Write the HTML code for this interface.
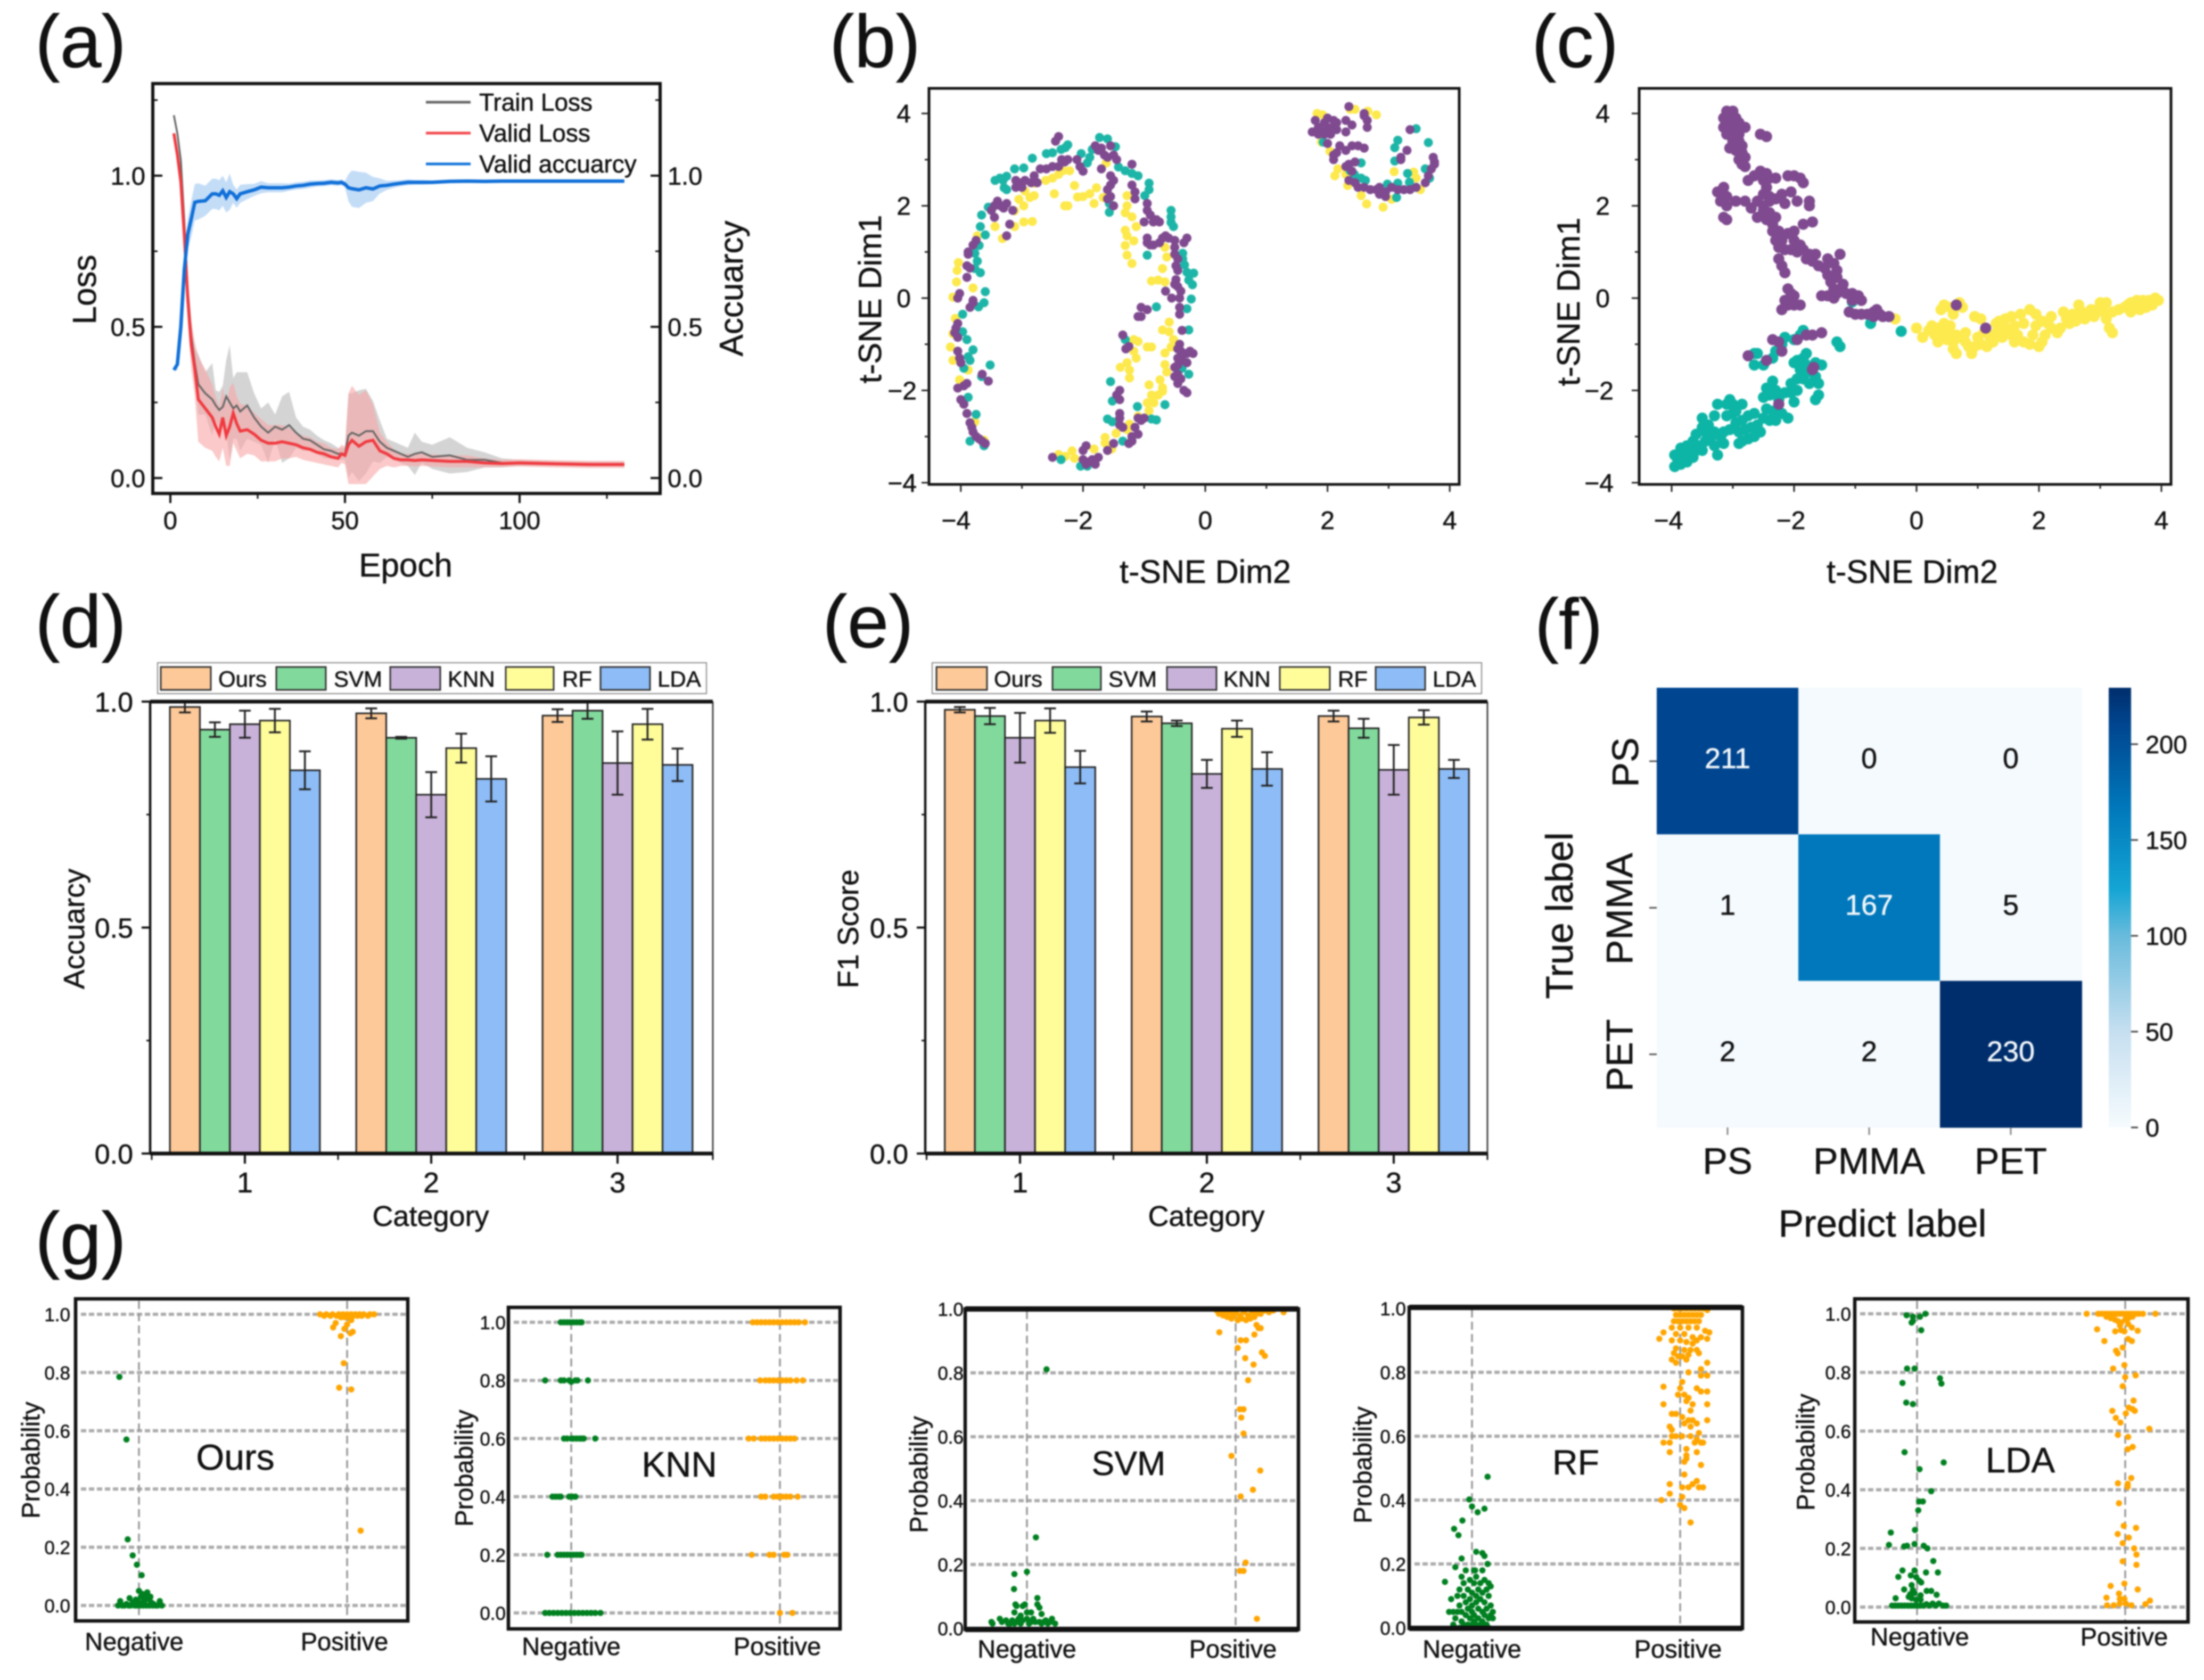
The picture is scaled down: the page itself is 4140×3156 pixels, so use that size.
<!DOCTYPE html>
<html lang="en">
<head>
<meta charset="utf-8">
<title>Model performance figure</title>
<style>
html,body{margin:0;padding:0;background:#fff}
svg{display:block;filter:blur(1.4px)}
text{font-family:"Liberation Sans",sans-serif;fill:#111;stroke:#111;stroke-width:0.6px}
</style>
</head>
<body>
<svg id="fig" xmlns="http://www.w3.org/2000/svg" width="4140" height="3156" viewBox="0 0 4140 3156">
<rect x="0" y="0" width="4140" height="3156" fill="#fff"/>
<defs>
<linearGradient id="cbar" x1="0" y1="1" x2="0" y2="0">
<stop offset="0" stop-color="#f6fbfe"/>
<stop offset="0.217" stop-color="#c6dff0"/>
<stop offset="0.435" stop-color="#69bbdc"/>
<stop offset="0.543" stop-color="#14a5d4"/>
<stop offset="0.726" stop-color="#0078bb"/>
<stop offset="0.917" stop-color="#00458f"/>
<stop offset="1" stop-color="#002e6c"/>
</linearGradient>
</defs>

<text x="66" y="126" font-size="140">(a)</text>
<text x="1558" y="126" font-size="140">(b)</text>
<text x="2877" y="126" font-size="140">(c)</text>
<text x="66" y="1216" font-size="140">(d)</text>
<text x="1545" y="1216" font-size="140">(e)</text>
<text x="2883" y="1219" font-size="135">(f)</text>
<text x="66" y="2375" font-size="140">(g)</text>

<text font-size="62" text-anchor="middle" transform="translate(180,544) rotate(-90)">Loss</text>
<text font-size="62" text-anchor="middle" transform="translate(1395,542) rotate(-90)">Accuarcy</text>
<text x="762" y="1083" font-size="62" text-anchor="middle">Epoch</text>

<g>
<line x1="800" y1="192" x2="884" y2="192" stroke="#666" stroke-width="5"/>
<text x="900" y="208" font-size="46">Train Loss</text>
<line x1="800" y1="250" x2="884" y2="250" stroke="#f2474b" stroke-width="5"/>
<text x="900" y="266" font-size="46">Valid Loss</text>
<line x1="800" y1="308" x2="884" y2="308" stroke="#1274da" stroke-width="5"/>
<text x="900" y="324" font-size="46">Valid accuarcy</text>
</g>

<text x="2264" y="1095" font-size="61" text-anchor="middle">t-SNE Dim2</text>
<text font-size="60" text-anchor="middle" transform="translate(1655,562) rotate(-90)">t-SNE Dim1</text>
<text x="3592" y="1095" font-size="61" text-anchor="middle">t-SNE Dim2</text>
<text font-size="60" text-anchor="middle" transform="translate(2967,567) rotate(-90)">t-SNE Dim1</text>

<g>
<rect x="296" y="1245" width="1031" height="58" fill="#fff" stroke="#888" stroke-width="2"/>
<rect x="302" y="1253" width="94" height="43" fill="#fdc998" stroke="#333" stroke-width="3"/>
<text x="410" y="1290" font-size="42">Ours</text>
<rect x="519" y="1253" width="93" height="43" fill="#81d99c" stroke="#333" stroke-width="3"/>
<text x="627" y="1290" font-size="42">SVM</text>
<rect x="733" y="1253" width="94" height="43" fill="#c8b2d9" stroke="#333" stroke-width="3"/>
<text x="841" y="1290" font-size="42">KNN</text>
<rect x="950" y="1253" width="90" height="43" fill="#fffd9a" stroke="#333" stroke-width="3"/>
<text x="1056" y="1290" font-size="42">RF</text>
<rect x="1128" y="1253" width="93" height="43" fill="#8dbcf6" stroke="#333" stroke-width="3"/>
<text x="1235" y="1290" font-size="42">LDA</text>
</g>
<text font-size="55" text-anchor="middle" transform="translate(158,1745) rotate(-90)">Accuarcy</text>
<text x="809" y="2303" font-size="54" text-anchor="middle">Category</text>

<g>
<rect x="1751" y="1245" width="1032" height="58" fill="#fff" stroke="#888" stroke-width="2"/>
<rect x="1759" y="1253" width="95" height="43" fill="#fdc998" stroke="#333" stroke-width="3"/>
<text x="1867" y="1290" font-size="42">Ours</text>
<rect x="1977" y="1253" width="91" height="43" fill="#81d99c" stroke="#333" stroke-width="3"/>
<text x="2082" y="1290" font-size="42">SVM</text>
<rect x="2192" y="1253" width="93" height="43" fill="#c8b2d9" stroke="#333" stroke-width="3"/>
<text x="2298" y="1290" font-size="42">KNN</text>
<rect x="2404" y="1253" width="94" height="43" fill="#fffd9a" stroke="#333" stroke-width="3"/>
<text x="2513" y="1290" font-size="42">RF</text>
<rect x="2584" y="1253" width="93" height="43" fill="#8dbcf6" stroke="#333" stroke-width="3"/>
<text x="2691" y="1290" font-size="42">LDA</text>
</g>
<text font-size="55" text-anchor="middle" transform="translate(1612,1745) rotate(-90)">F1 Score</text>
<text x="2266" y="2303" font-size="54" text-anchor="middle">Category</text>

<text x="3536" y="2323" font-size="71" text-anchor="middle">Predict label</text>
<text font-size="71" text-anchor="middle" transform="translate(2954,1720) rotate(-90)">True label</text>
<rect x="3961" y="1292" width="42" height="826" fill="url(#cbar)"/>

<text x="442" y="2761" font-size="68" text-anchor="middle">Ours</text>
<text x="1276" y="2774" font-size="67" text-anchor="middle">KNN</text>
<text x="2120" y="2771" font-size="64" text-anchor="middle">SVM</text>
<text x="2960" y="2770" font-size="66" text-anchor="middle">RF</text>
<text x="3795" y="2766" font-size="67" text-anchor="middle">LDA</text>

<g id="layer-marks"></g>
</svg>

<script>
// ---------- panel (a) data ----------
const aEpochs=[1,2,3,4,5,6,7,8,10,12,13,14,15,16,17,18,19,20,22,24,26,28,30,32,34,36,38,40,42,44,46,48,49,50,51,52,54,56,58,60,62,64,66,68,70,72,75,80,85,90,95,100,110,120,130];
const aTrainLoss=[1.2,1.14,1.05,.85,.62,.47,.38,.31,.28,.26,.24,.225,.235,.27,.25,.23,.24,.22,.24,.2,.17,.15,.17,.16,.175,.15,.13,.125,.11,.095,.09,.08,.08,.08,.14,.15,.14,.155,.155,.12,.1,.09,.08,.07,.08,.085,.07,.075,.06,.06,.05,.05,.048,.045,.045];
const aValidLoss=[1.14,1.07,.98,.80,.59,.44,.36,.26,.23,.20,.17,.145,.20,.14,.17,.215,.18,.155,.16,.145,.125,.115,.115,.12,.115,.11,.10,.095,.085,.08,.07,.065,.08,.075,.11,.125,.105,.12,.125,.09,.08,.065,.06,.06,.058,.06,.058,.055,.055,.05,.048,.05,.047,.045,.045];
const aValidAcc=[.357,.376,.50,.69,.807,.858,.912,.915,.917,.94,.94,.935,.95,.928,.947,.94,.924,.94,.947,.953,.962,.96,.96,.96,.962,.966,.968,.972,.974,.975,.978,.976,.978,.972,.96,.957,.953,.96,.956,.966,.968,.972,.975,.978,.978,.978,.978,.981,.982,.981,.982,.982,.982,.982,.982];
const aTrainErr=[0,.01,.02,.03,.03,.03,.05,.1,.07,.12,.05,.06,.07,.12,.19,.1,.11,.13,.11,.08,.06,.1,.04,.11,.11,.05,.04,.035,.03,.03,.025,.02,.02,.02,.14,.13,.15,.14,.1,.07,.03,.03,.03,.03,.07,.035,.04,.06,.04,.025,.015,.01,.008,.008,.008];
const aValidErr=[0,.01,.03,.06,.08,.08,.09,.14,.13,.11,.1,.09,.1,.1,.13,.1,.09,.09,.08,.07,.07,.06,.06,.055,.05,.04,.04,.04,.035,.035,.03,.03,.03,.03,.17,.18,.17,.17,.12,.06,.04,.03,.02,.02,.02,.02,.02,.02,.02,.015,.012,.012,.012,.012,.012];
const aAccErr=[0,.02,.05,.06,.05,.06,.06,.06,.05,.05,.05,.05,.05,.05,.06,.03,.03,.03,.025,.02,.02,.015,.015,.015,.012,.012,.012,.012,.01,.01,.01,.01,.01,.01,.045,.06,.06,.05,.04,.025,.015,.012,.01,.01,.008,.008,.006,.006,.006,.005,.002,.002,.002,.002,.002];
const aYTicks=[0,0.5,1.0];
const aYMinor=[0.25,0.75,1.25];
const aXTicks=[0,50,100];
const aXMinor=[25,75,125];

// ---------- t-SNE data (Dim2, Dim1) ----------
const bPurple=[[-3.6,-3.15],[-3.65,-3.1],[-3.7,-3.05],[-3.75,-3.0],[-3.8,-2.9],[-3.82,-2.8],[-3.85,-2.7],[-3.9,-2.5],[-3.95,-2.3],[-4.0,-2.2],[-4.05,-1.95],[-3.95,-1.9],[-3.9,-1.85],[-3.55,-1.8],[-3.65,-1.65],[-4.0,-1.4],[-4.02,-1.3],[-4.05,-1.15],[-4.1,-0.75],[-4.08,-0.65],[-4.05,-0.85],[-4.05,-0.55],[-3.8,-0.1],[-3.85,-0.2],[-3.8,-0.05],[-4.05,0.0],[-4.02,0.1],[-3.9,0.45],[-3.85,0.65],[-3.9,0.7],[-3.88,1.0],[-3.88,0.95],[-3.8,1.15],[-3.75,1.25],[-3.5,1.9],[-3.45,2.0],[-3.4,2.1],[-3.35,2.0],[-3.3,1.95],[-3.25,2.05],[-3.15,1.9],[-3.45,1.75],[-3.2,1.6],[-3.25,1.35],[-3.1,2.4],[-3.1,2.55],[-3.05,2.5],[-3.0,2.4],[-2.95,2.55],[-2.85,2.5],[-2.8,2.65],[-2.75,2.5],[-2.7,2.8],[-2.6,2.8],[-2.5,2.85],[-2.4,2.85],[-2.3,2.95],[-2.25,3.0],[-2.4,3.5],[-2.45,3.4],[-2.35,3.0],[-2.1,3.0],[-2.05,2.85],[-2.0,2.75],[-1.8,3.3],[-1.75,3.2],[-1.7,3.25],[-1.65,3.1],[-1.6,3.05],[-1.55,3.3],[-1.5,3.1],[-1.45,3.0],[-1.7,2.8],[-1.2,2.9],[-1.55,2.65],[-1.5,2.55],[-1.55,2.45],[-1.6,2.35],[-1.55,2.2],[-1.6,2.15],[-1.5,2.0],[-1.2,2.45],[-1.15,2.3],[-1.15,2.15],[-0.95,2.05],[-0.95,1.9],[-0.9,1.8],[-1.0,1.65],[-0.85,1.65],[-0.8,1.7],[-0.75,1.65],[-0.95,1.3],[-0.95,1.2],[-0.9,1.15],[-0.85,1.15],[-0.75,1.2],[-0.7,1.3],[-0.65,1.35],[-0.6,1.3],[-0.5,1.25],[-0.5,1.1],[-0.5,0.95],[-0.45,0.85],[-0.48,0.7],[-0.45,0.6],[-0.48,0.4],[-0.5,0.3],[-0.45,0.25],[-0.4,0.15],[-0.3,1.3],[-0.35,1.2],[-0.65,0.15],[-0.55,0.0],[-0.42,0.0],[-0.42,-0.2],[-0.42,-0.35],[-0.38,-0.7],[-1.05,-0.2],[-0.95,-0.25],[-1.1,-0.4],[-1.05,-0.4],[-1.35,-0.8],[-1.3,-1.1],[-1.25,-1.05],[-0.42,-1.0],[-0.45,-1.1],[-0.4,-1.15],[-0.35,-1.2],[-0.3,-1.2],[-0.25,-1.15],[-0.2,-1.2],[-0.45,-1.3],[-0.38,-1.35],[-0.45,-1.45],[-0.5,-1.5],[-0.3,-1.4],[-0.45,-1.65],[-0.5,-1.7],[-0.4,-1.75],[-0.45,-1.85],[-0.35,-2.0],[-0.3,-2.05],[-1.4,-2.0],[-1.45,-2.1],[-1.4,-2.2],[-1.4,-2.5],[-1.4,-2.6],[-1.4,-2.75],[-1.35,-2.8],[-1.1,-2.6],[-1.05,-2.65],[-1.0,-2.6],[-1.15,-2.8],[-1.1,-2.95],[-1.2,-3.0],[-1.2,-3.1],[-1.25,-3.15],[-1.5,-3.15],[-1.6,-3.3],[-1.95,-3.2],[-2.0,-3.3],[-2.0,-3.5],[-1.95,-3.6],[-1.9,-3.55],[-1.85,-3.5],[-1.8,-3.6],[-1.75,-3.45],[-2.5,-3.45],[1.75,3.6],[1.8,3.85],[1.85,3.7],[1.9,3.6],[1.85,3.55],[1.95,3.8],[2.0,3.9],[2.0,3.7],[2.05,3.55],[2.1,3.85],[2.1,3.7],[2.15,3.65],[1.95,3.55],[2.15,3.8],[2.3,3.85],[2.4,3.75],[2.3,3.6],[2.35,4.15],[2.6,3.95],[2.6,4.0],[2.65,3.85],[2.65,3.7],[2.0,3.35],[2.2,3.3],[2.15,3.15],[2.1,3.1],[2.1,3.0],[2.3,3.2],[2.4,3.3],[2.5,3.3],[2.6,3.25],[2.45,2.95],[2.35,2.9],[2.3,2.85],[2.4,2.75],[2.35,2.55],[2.45,2.5],[2.5,2.4],[2.6,2.4],[2.7,2.35],[2.8,2.35],[2.85,2.25],[2.85,2.4],[2.95,2.3],[2.95,2.2],[3.05,2.4],[3.15,2.35],[3.25,2.35],[3.35,2.35],[3.45,2.4],[3.6,2.5],[3.65,2.65],[3.7,2.8],[3.75,2.95],[3.73,3.05],[3.75,2.9],[3.2,3.0],[3.3,3.2],[3.2,3.05],[3.35,3.65]];
const bTeal=[[-3.62,-3.2],[-3.85,-3.1],[-3.75,-2.52],[-3.88,-2.15],[-3.66,-1.7],[-3.95,-1.52],[-3.52,-1.45],[-3.85,-1.35],[-3.88,-1.27],[-3.8,-1.12],[-3.9,-.9],[-3.97,-.73],[-3.97,-.35],[-3.71,-.19],[-3.62,-.1],[-3.6,.14],[-3.68,.55],[-3.77,.64],[-3.73,.8],[-3.77,.97],[-3.7,1.14],[-3.6,1.37],[-3.68,1.55],[-3.66,1.8],[-3.55,1.97],[-3.44,2.55],[-3.36,2.6],[-3.31,2.55],[-3.25,2.64],[-3.29,2.39],[-3.25,2.35],[-3.12,2.8],[-2.97,2.82],[-2.83,3.03],[-2.6,3.13],[-2.5,3.15],[-2.36,3.22],[-2.25,3.32],[-2.29,3.26],[-2.03,3.13],[-1.85,3.22],[-1.89,3.05],[-1.93,2.93],[-1.73,3.48],[-1.6,3.45],[-1.47,3.28],[-1.42,2.84],[-1.31,2.76],[-1.2,2.7],[-1.1,2.65],[-.92,2.49],[-.92,2.35],[-.99,2.22],[-1.57,2.05],[-1.57,1.86],[-.56,1.9],[-.56,1.76],[-.52,1.55],[-.56,1.64],[-.95,.93],[-.37,.97],[-.37,.85],[-.34,.72],[-.3,.56],[-.19,.54],[-.27,.39],[-.21,.29],[-.23,-.02],[-.3,-.23],[-.8,-.19],[-.27,-.69],[-1.31,-.9],[-.27,-1.65],[-.38,-1.52],[-1.55,-1.81],[-1.52,-2.23],[-1.11,-2.35],[-.66,-2.31],[-1.6,-2.62],[-1.52,-2.68],[-.88,-2.62],[-.8,-2.64],[-1.35,-3.1],[-2.36,-3.5],[-2.04,-3.64],[-1.93,-3.64],[1.93,3.38],[3.45,3.67],[3.65,3.37],[3.15,3.42],[3.1,3.26],[3.1,2.97],[2.37,2.76],[2.55,2.93],[2.44,2.68],[2.55,2.6],[2.62,2.55],[2.98,2.47],[3.15,2.49],[3.31,2.7],[3.34,2.51],[3.6,2.8],[3.67,2.6],[3.13,2.18],[3.45,2.4]];
const bYellow=[[-3.62,-3.08],[-3.77,-2.68],[-4.02,-1.77],[-3.88,-1.56],[-4.13,-1.35],[-4.17,-1.06],[-4.13,-.77],[-4.09,-.44],[-4.13,.02],[-4.07,.35],[-4.06,.6],[-3.8,.22],[-4.04,.77],[-3.73,1.35],[-3.44,1.55],[-3.32,1.29],[-3.12,1.55],[-2.97,1.65],[-2.83,1.66],[-3.12,1.89],[-2.97,2.0],[-3.05,2.14],[-2.87,2.18],[-2.8,2.22],[-2.95,2.32],[-2.8,2.49],[-2.61,2.55],[-2.5,2.6],[-2.4,2.68],[-2.33,2.76],[-2.22,2.76],[-2.47,2.26],[-2.14,2.44],[-2.3,2.0],[-2.25,2.0],[-2.09,2.19],[-2.0,2.2],[-1.82,2.05],[-1.89,2.26],[-1.78,2.39],[-1.67,2.18],[-1.62,2.93],[-1.28,2.22],[-1.28,2.0],[-1.31,1.85],[-1.2,1.76],[-1.13,1.55],[-1.31,1.47],[-1.28,1.35],[-1.17,1.24],[-1.31,1.14],[-1.28,.93],[-1.2,.75],[-.66,1.1],[-.63,.89],[-.7,.64],[-.77,.39],[-.88,.37],[-.66,.35],[-.59,-.52],[-.7,-.69],[-.59,-.73],[-.52,-.9],[-.56,-1.06],[-.66,-1.19],[-.88,-1.06],[-.95,-1.06],[-1.17,-.9],[-1.1,-.94],[-1.17,-1.15],[-1.13,-1.3],[-1.28,-1.4],[-1.39,-1.5],[-1.24,-1.56],[-1.24,-1.73],[-.66,-1.44],[-.63,-1.6],[-.74,-1.77],[-.92,-1.88],[-.7,-1.94],[-.88,-2.1],[-.77,-2.1],[-.7,-2.02],[-.95,-2.27],[-.84,-2.27],[-.92,-2.44],[-1.1,-2.56],[-1.24,-2.73],[-1.28,-2.85],[-1.46,-2.93],[-1.64,-3.02],[-1.64,-3.14],[-1.82,-3.27],[-1.53,-3.27],[-2.18,-3.31],[-2.4,-3.39],[-2.29,-3.43],[-2.14,-3.47],[1.83,4.0],[1.92,3.97],[2.37,4.09],[2.45,4.09],[2.66,4.05],[2.8,3.97],[1.9,3.38],[2.04,3.18],[2.17,2.8],[2.12,2.65],[2.3,2.68],[2.33,2.44],[2.55,2.22],[2.64,2.04],[2.91,1.97],[3.05,2.14],[3.09,2.74],[3.41,2.73],[3.45,2.6],[3.52,2.35]];
const cPurple=[[-3.1,4.05],[-3.0,4.05],[-3.05,3.95],[-3.15,3.9],[-2.95,3.9],[-3.1,3.8],[-3.0,3.8],[-2.9,3.8],[-3.15,3.7],[-3.05,3.7],[-2.95,3.65],[-2.8,3.7],[-3.1,3.55],[-3.0,3.55],[-2.9,3.55],[-3.0,3.4],[-2.9,3.4],[-2.85,3.3],[-3.05,3.25],[-2.95,3.2],[-2.85,3.15],[-2.8,3.05],[-2.9,3.0],[-2.85,2.9],[-2.8,2.85],[-2.55,3.55],[-2.45,3.5],[-2.75,2.55],[-2.65,2.65],[-2.55,2.75],[-2.45,2.7],[-2.4,2.6],[-2.3,2.6],[-2.5,2.55],[-2.45,2.4],[-2.5,2.25],[-2.4,2.2],[-2.1,2.65],[-2.0,2.65],[-1.9,2.6],[-1.85,2.5],[-3.25,2.3],[-3.15,2.4],[-3.1,2.2],[-3.2,2.1],[-3.1,2.0],[-3.15,1.75],[-3.1,1.7],[-2.95,2.1],[-2.8,2.1],[-2.7,1.95],[-2.6,2.1],[-2.5,2.0],[-2.4,2.1],[-2.3,2.15],[-2.2,2.25],[-2.15,2.05],[-2.05,2.3],[-1.95,2.1],[-1.75,2.1],[-1.75,2.0],[-2.5,1.9],[-2.4,1.85],[-2.45,1.7],[-2.35,1.6],[-2.3,1.75],[-2.6,1.75],[-1.85,1.6],[-1.7,1.65],[-2.35,1.45],[-2.25,1.45],[-2.1,1.4],[-2.0,1.45],[-2.3,1.25],[-2.2,1.25],[-2.0,1.25],[-1.9,1.15],[-2.25,1.1],[-2.15,1.05],[-2.05,1.05],[-1.95,1.0],[-1.85,1.05],[-1.75,0.95],[-1.65,0.95],[-2.25,.85],[-2.2,.7],[-2.15,.55],[-1.8,.85],[-1.7,.8],[-1.6,.7],[-1.5,.65],[-1.45,.85],[-1.35,.75],[-1.45,.5],[-1.4,.35],[-1.3,.45],[-1.35,.2],[-1.3,.1],[-1.2,.3],[-1.15,.1],[-1.05,.1],[-.95,.05],[-1.2,.15],[-1.05,-.05],[-.9,-.05],[-1.35,.0],[-1.55,.05],[-1.45,.05],[-1.3,.6],[-1.25,.95],[-2.1,.2],[-2.05,.1],[-2.0,.05],[-2.15,-.05],[-2.1,-.15],[-2.2,-.25],[-1.9,-.15],[-2.0,-.15],[-2.05,.0],[-1.1,-.3],[-1.0,-.35],[-.9,-.35],[-.8,-.35],[-.7,-.3],[-.65,-.25],[-.6,-.35],[-.55,-.4],[-.45,-.4],[-.7,-.4],[.65,-.15],[1.13,-.65],[-1.7,-1.55],[-1.68,-1.5],[-2.25,-2.3],[-2.45,-1.35],[-2.75,-1.25],[-2.35,-.9],[-2.25,-.95],[-2.2,-1.15],[-1.8,-.8],[-1.7,-.8],[-1.55,-.75],[-1.95,-.9]];
const cYellow=[[-.35,-.45],[0,-.65],[.1,-.85],[.2,-.7],[.25,-.6],[.3,-.8],[.35,-.65],[.4,-.75],[.45,-.55],[.5,-.7],[.5,-.9],[.55,-.6],[.35,-.95],[.6,-.95],[.65,-.8],[.7,-.85],[.8,-.95],[.6,-1.1],[.65,-1.2],[.85,-1.05],[.9,-1.2],[.95,-1.05],[1.0,-.85],[1.05,-1.0],[1.15,-1.05],[1.2,-.85],[1.25,-.95],[1.3,-.75],[1.4,-.85],[1.45,-.65],[1.35,-.5],[1.45,-.45],[1.55,-.4],[1.6,-.6],[1.65,-.8],[1.6,-.95],[1.75,-.95],[1.85,-1.0],[2.0,-1.05],[2.05,-.95],[1.9,-.8],[1.7,-.35],[1.85,-.25],[1.95,-.35],[2.05,-.5],[2.1,-.8],[2.15,-.55],[2.2,-.4],[2.3,-.75],[2.35,-.65],[2.4,-.3],[2.55,-.35],[2.5,-.55],[2.65,-.15],[2.7,-.3],[2.75,-.45],[2.85,-.25],[2.95,-.25],[3.0,-.1],[3.05,-.3],[3.1,-.45],[3.15,-.65],[3.2,-.75],[3.1,-.1],[3.2,-.3],[3.3,-.25],[3.4,-.2],[3.5,-.1],[3.5,-.3],[3.6,-.05],[3.65,-.25],[3.7,-.05],[3.75,-.2],[3.8,-.05],[3.85,-.15],[3.9,0],[3.95,-.05],[.4,-.25],[.45,-.15],[.55,-.2],[.7,-.1],[.75,-.2],[.6,-.35],[.95,-.4],[1.05,-.45],[1.3,-.55],[1.5,-.75],[1.75,-.55],[2.2,-.65],[2.6,-.5],[2.9,-.4],[.8,-.75],[1.1,-.75],[1.55,-.8],[1.95,-.6],[2.45,-.45],[3.45,-.15],[3.6,-.2]];
const cTeal=[[-3.95,-3.65],[-3.9,-3.5],[-3.95,-3.4],[-3.85,-3.6],[-3.8,-3.4],[-3.85,-3.25],[-3.75,-3.55],[-3.7,-3.35],[-3.75,-3.2],[-3.65,-3.45],[-3.6,-3.3],[-3.65,-3.1],[-3.55,-3.2],[-3.6,-2.95],[-3.5,-3.3],[-3.45,-3.1],[-3.5,-2.8],[-3.5,-2.6],[-3.4,-2.75],[-3.45,-2.9],[-3.35,-3.0],[-3.3,-3.2],[-3.25,-3.4],[-3.2,-3.0],[-3.15,-2.9],[-3.05,-2.85],[-3.15,-3.15],[-3.3,-2.9],[-3.3,-2.55],[-3.25,-2.3],[-3.1,-2.3],[-3.1,-2.55],[-3.05,-2.2],[-3.0,-2.3],[-3.0,-2.5],[-2.95,-2.7],[-2.9,-2.9],[-2.95,-2.45],[-2.85,-2.3],[-2.85,-2.65],[-2.8,-2.85],[-2.75,-3.05],[-2.85,-3.1],[-2.9,-3.15],[-2.7,-2.8],[-2.65,-3.0],[-2.55,-2.9],[-2.6,-2.75],[-2.75,-2.55],[-2.65,-2.5],[-2.5,-2.6],[-2.45,-2.4],[-2.4,-2.65],[-2.35,-2.45],[-2.5,-2.15],[-2.45,-1.95],[-2.4,-2.1],[-2.35,-1.8],[-2.3,-2.0],[-2.25,-2.2],[-2.3,-2.5],[-2.3,-2.65],[-2.1,-2.6],[-2.2,-2.5],[-2.15,-2.05],[-2.05,-2.05],[-2.0,-2.25],[-2.05,-1.85],[-1.95,-2.0],[-1.95,-1.75],[-1.9,-1.55],[-1.95,-1.35],[-2.0,-1.4],[-1.85,-1.3],[-1.8,-1.45],[-1.75,-1.6],[-1.85,-1.75],[-1.75,-1.85],[-1.65,-1.7],[-1.6,-1.85],[-1.6,-2.1],[-1.65,-2.2],[-1.55,-1.45],[-1.65,-1.4],[-1.8,-1.2],[-2.65,-1.45],[-2.5,-1.45],[-2.35,-1.3],[-2.3,-1.15],[-2.2,-1.0],[-2.15,-.85],[-2.6,-1.2],[-2.65,-1.2],[-2.0,-.9],[-1.9,-.8],[-1.85,-.7],[-1.3,-.95],[-1.25,-1.05],[-1.05,-.08],[-.75,-.55],[-.25,-.72],[-2,-.12]];
const tsneTicks=[-4,-3,-2,-1,0,1,2,3,4];

// ---------- panels (d)(e) data ----------
const barCategories=[1,2,3];
const dOurs=[.988,.974,.969];
const dSvm=[.938,.92,.98];
const dKnn=[.95,.794,.864];
const dRf=[.958,.897,.95];
const dLda=[.848,.829,.86];
const dOursErr=[.012,.011,.014];
const dSvmErr=[.016,.002,.018];
const dKnnErr=[.03,.05,.07];
const dRfErr=[.026,.032,.034];
const dLdaErr=[.042,.05,.036];
const eOurs=[.982,.967,.968];
const eSvm=[.968,.952,.941];
const eKnn=[.92,.84,.849];
const eRf=[.958,.94,.965];
const eLda=[.855,.851,.851];
const eOursErr=[.006,.011,.012];
const eSvmErr=[.018,.006,.021];
const eKnnErr=[.055,.031,.055];
const eRfErr=[.027,.018,.016];
const eLdaErr=[.036,.037,.02];
const barYTicks=[0,0.5,1.0];
const barYMinor=[0.25,0.75];

// ---------- panel (f) data ----------
const cmLabels=['PS','PMMA','PET'];
const cmRowPS=[211,0,0];
const cmRowPMMA=[1,167,5];
const cmRowPET=[2,2,230];
const cbTicks=[0,50,100,150,200];

// ---------- panel (g) data: [jitter around class centre, probability] ----------
const probTicks=[0,0.2,0.4,0.6,0.8,1.0];
const oursNeg=[[-.094,.785],[-.06,.57],[-.054,.227],[-.03,.172],[-.01,.14],[.013,.104],[-.1,0],[-.09,.015],[-.08,0],[-.07,0],[-.06,.005],[-.05,0],[-.045,.025],[-.04,0],[-.03,.01],[-.02,0],[-.015,.02],[-.01,0],[0,.01],[0,.05],[.005,0],[.01,.03],[.015,.04],[.02,0],[.025,.015],[.03,.03],[.035,0],[.04,.045],[.05,0],[.05,.02],[.055,.03],[.06,.01],[.065,0],[.07,.005],[.08,0],[.09,0],[.1,.015],[.11,0]];
const oursPos=[[-.13,1],[-.11,.995],[-.1,1],[-.08,.995],[-.07,1],[-.05,.995],[-.04,1],[-.03,.99],[-.02,1],[-.01,.99],[0,1],[.01,.99],[.02,1],[.03,.995],[.04,1],[.05,.995],[.06,1],[.07,.995],[.08,1],[.1,.995],[.11,1],[.13,1],[-.055,.97],[-.067,.955],[.02,.98],[0,.965],[-.013,.95],[.027,.94],[-.03,.925],[.016,.935],[-.016,.832],[-.038,.748],[.02,.742],[.065,.257]];
const knnNeg=[[-.05,1],[-.035,1],[-.02,1],[-.005,1],[.01,1],[.025,1],[.04,1],[.05,1],[-.125,.8],[-.05,.8],[-.035,.8],[-.01,.8],[0,.795],[.02,.8],[.03,.8],[.08,.8],[-.035,.6],[-.02,.6],[0,.6],[.01,.6],[.025,.6],[.04,.6],[.05,.6],[.06,.6],[.115,.6],[-.09,.4],[-.075,.4],[-.06,.4],[-.05,.4],[-.01,.4],[.005,.4],[.02,.4],[-.115,.2],[-.065,.2],[-.05,.2],[-.035,.2],[-.02,.2],[-.005,.2],[.01,.2],[.025,.2],[.04,.2],[.05,.2],[-.125,0],[-.105,0],[-.085,0],[-.065,0],[-.045,0],[-.025,0],[-.005,0],[.015,0],[.035,0],[.055,0],[.075,0],[.095,0],[.115,0],[.14,0]];
const knnPos=[[-.13,1],[-.11,1],[-.09,1],[-.07,1],[-.05,1],[-.03,1],[-.01,1],[.01,1],[.03,1],[.05,1],[.07,1],[.09,1],[.12,1],[-.095,.8],[-.07,.8],[-.05,.8],[-.03,.8],[-.01,.8],[.01,.8],[.03,.8],[.05,.8],[.08,.8],[.11,.8],[-.15,.6],[-.125,.6],[-.09,.6],[-.07,.6],[-.05,.6],[-.03,.6],[-.01,.6],[.01,.6],[.03,.6],[.05,.6],[.07,.6],[-.09,.4],[-.07,.4],[-.03,.4],[-.01,.4],[.01,.4],[.03,.4],[.05,.4],[.085,.4],[-.135,.2],[-.05,.2],[-.03,.2],[.02,.2],[.035,.2],[0,0],[.06,0]];
const svmNeg=[[.094,.811],[.043,.285],[0,.177],[-.06,.17],[-.062,.123],[-.17,.02],[-.165,.015],[-.13,.03],[-.12,.02],[-.1,.025],[-.09,.015],[-.08,.015],[-.06,.05],[-.07,.025],[-.05,.02],[-.05,.07],[-.055,.075],[-.03,.04],[-.03,.015],[-.02,.07],[-.01,.075],[-.02,.025],[0,.03],[0,.05],[.01,.015],[.02,.05],[.02,.02],[.03,.03],[.05,.095],[.05,.075],[.04,.02],[.06,.065],[.07,.045],[.06,.02],[.08,.02],[.09,.025],[.1,.015],[.11,.02],[.12,.03],[.135,.015],[-.06,.015],[-.04,.03],[.07,.015]];
const svmPos=[[-.09,.995],[-.08,.985],[-.07,.99],[-.06,.98],[-.05,.99],[-.04,.975],[-.03,.99],[-.02,.97],[-.01,.98],[0,.99],[.01,.965],[.02,.98],[.03,.97],[.04,.99],[.05,.965],[.06,.98],[.07,.97],[.08,.99],[.09,.975],[.1,.985],[.11,.99],[.12,.985],[.14,.995],[.16,.99],[.18,.995],[.23,.99],[.1,.95],[.11,.94],[.09,.92],[.12,.94],[-.078,.927],[.024,.902],[.05,.902],[.01,.878],[.126,.864],[.14,.853],[.046,.846],[.086,.826],[.06,.777],[.02,.686],[.038,.686],[.027,.66],[.038,.61],[-.02,.54],[.118,.494],[.083,.434],[.024,.413],[.048,.206],[.02,.18],[.038,.18],[.102,.03]];
const rfNeg=[[.075,.473],[-.013,.402],[0,.38],[.027,.362],[.06,.373],[-.046,.336],[-.086,.31],[-.065,.29],[.02,.238],[.05,.234],[.06,.225],[-.05,.217],[.075,.2],[-.08,.19],[.015,.18],[-.13,.144],[-.1,.09],[-.11,.05],[-.09,.05],[-.09,.01],[-.08,.03],[-.07,.05],[-.07,.1],[-.06,.12],[-.06,.07],[-.05,.02],[-.05,.16],[-.05,.05],[-.04,.1],[-.04,.01],[-.04,.14],[-.03,.04],[-.03,.08],[-.03,.18],[-.02,.01],[-.02,.06],[-.02,.12],[-.01,.03],[-.01,.09],[-.01,.15],[0,.01],[0,.05],[0,.07],[0,.11],[.01,.02],[.01,.04],[.01,.14],[.01,.18],[.02,.01],[.02,.08],[.02,.1],[.02,.16],[.03,.03],[.03,.06],[.03,.12],[.04,.01],[.04,.09],[.04,.14],[.05,.02],[.05,.05],[.05,.11],[.05,.18],[.06,.04],[.06,.08],[.06,.15],[.07,.01],[.07,.06],[.07,.12],[.08,.03],[.08,.1],[.08,.14],[.09,.04],[.09,.07],[.09,.13],[.1,.03],[.1,.05],[-.08,0],[-.06,0],[-.03,0],[0,0],[.03,0],[.06,0],[.08,0]];
const rfPos=[[-.03,1],[-.01,1],[.01,1],[.03,1],[.05,1],[.07,1],[.09,1],[.11,1],[.13,.995],[-.02,.98],[0,.98],[.02,.98],[.04,.98],[.06,.98],[.08,.98],[.1,.98],[-.03,.96],[-.01,.96],[.01,.96],[.03,.96],[.05,.96],[.07,.96],[.09,.96],[-.04,.94],[0,.94],[.04,.94],[.08,.94],[.12,.93],[.14,.925],[-.08,.925],[-.02,.92],[.02,.92],[.06,.91],[.1,.91],[-.1,.905],[-.04,.9],[0,.9],[.03,.895],[.06,.89],[.08,.9],[.13,.905],[-.02,.875],[.02,.87],[.05,.87],[.08,.87],[-.03,.86],[-.01,.85],[.01,.85],[.04,.855],[-.04,.84],[-.02,.83],[.03,.84],[.09,.86],[.13,.83],[.1,.81],[.13,.79],[.1,.79],[.04,.8],[.01,.77],[0,.75],[-.08,.755],[.08,.75],[.1,.74],[.13,.74],[-.01,.73],[.02,.73],[.04,.72],[.03,.71],[.06,.7],[-.08,.7],[.13,.7],[.05,.68],[-.04,.67],[-.02,.67],[.01,.66],[.04,.65],[.06,.65],[.13,.65],[.02,.64],[.05,.63],[.08,.64],[-.05,.63],[-.04,.62],[.09,.61],[-.04,.6],[-.02,.6],[.01,.6],[.05,.6],[.08,.59],[-.08,.58],[-.05,.58],[.07,.58],[.1,.58],[.11,.58],[.03,.56],[.03,.54],[.08,.55],[-.05,.55],[.03,.53],[.02,.52],[.1,.51],[.02,.48],[.08,.46],[.06,.45],[-.05,.45],[.04,.44],[.09,.44],[.11,.44],[.01,.44],[-.05,.42],[.01,.41],[-.09,.4],[0,.385],[.02,.375],[.05,.33]];
const ldaNeg=[[-.05,.995],[-.02,.99],[-.02,.975],[-.026,.97],[.014,.99],[.04,1],[.02,.944],[-.048,.813],[-.012,.813],[-.07,.764],[.11,.78],[.117,.762],[-.052,.697],[-.02,.692],[-.06,.528],[.128,.493],[.012,.47],[.068,.395],[.01,.36],[.028,.36],[.006,.33],[-.01,.263],[-.126,.254],[-.135,.212],[-.062,.207],[-.048,.209],[-.012,.215],[.032,.209],[.05,.2],[.078,.157],[-.07,.125],[-.012,.125],[.043,.118],[.1,.118],[-.09,.103],[-.03,.108],[-.004,.102],[.01,.09],[.02,.084],[-.026,.075],[-.062,.06],[-.02,.058],[.046,.055],[.068,.055],[.094,.042],[-.033,.044],[-.012,.048],[.017,.04],[-.103,.03],[-.04,.035],[-.026,.03],[-.004,.025],[.017,.025],[-.12,.005],[-.105,.005],[-.09,.005],[-.075,.005],[-.06,.005],[-.045,.005],[-.03,.005],[-.015,.005],[0,.005],[.015,.005],[.03,.005],[.045,.01],[.06,.005],[.075,.012],[.09,.005],[.105,.012],[.125,.005],[.14,.005]];
const ldaPos=[[-.185,1],[.145,1],[-.13,1],[-.115,1],[-.1,1],[-.085,1],[-.07,1],[-.055,1],[-.04,1],[-.025,1],[-.01,1],[.005,1],[.02,1],[.035,1],[.05,1],[.065,1],[.085,1],[-.09,.99],[-.07,.985],[-.05,.98],[-.035,.975],[-.02,.97],[0,.98],[.015,.985],[.035,.99],[-.025,.96],[.014,.965],[-.135,.947],[-.048,.94],[-.02,.944],[-.004,.94],[.032,.953],[.06,.942],[-.1,.907],[.014,.914],[.032,.907],[-.012,.885],[-.044,.874],[-.036,.865],[-.058,.813],[-.004,.825],[.05,.79],[0,.784],[-.012,.753],[.04,.704],[.017,.68],[.035,.675],[.046,.669],[-.062,.669],[.003,.66],[-.045,.645],[-.023,.629],[.116,.608],[-.035,.587],[.014,.58],[.036,.546],[.012,.538],[.029,.44],[-.035,.422],[.012,.42],[.012,.41],[-.03,.354],[-.007,.277],[.052,.27],[-.036,.249],[.017,.237],[-.012,.218],[.043,.2],[.054,.179],[-.012,.156],[.054,.144],[-.07,.072],[-.004,.08],[.06,.06],[-.03,.046],[-.09,.032],[-.026,.028],[-.004,.028],[.119,.022],[.097,.01],[-.087,.006],[-.055,.006],[-.026,.012],[.003,.012],[.03,.006]];

// ---------- helpers ----------
const NS='http://www.w3.org/2000/svg';
const root=document.getElementById('layer-marks');
function shape(tag,attrs){
  const el=document.createElementNS(NS,tag);
  for(const k in attrs){el.setAttribute(k,attrs[k]);}
  root.appendChild(el);
  return el;
}
function label(x,y,str,size,anchor){
  const el=document.createElementNS(NS,'text');
  el.setAttribute('x',x);
  el.setAttribute('y',y);
  el.setAttribute('font-size',size);
  el.setAttribute('text-anchor',anchor);
  el.textContent=str;
  root.appendChild(el);
  return el;
}
function fmt1(v){return v.toFixed(1);}
function tsneTxt(v){return v<0?'\u2212'+Math.abs(v):String(v);}

// ---------- panel (a) ----------
const ax=v=>320+v*6.56;
const ay=v=>898-v*568;
function bandPath(vals,errs){
  const up=aEpochs.map((e,i)=>ax(e)+','+ay(vals[i]+errs[i]));
  const lo=aEpochs.map((e,i)=>ax(e)+','+ay(Math.max(vals[i]-errs[i],-0.02))).reverse();
  return 'M'+up.join('L')+'L'+lo.join('L')+'Z';
}
function linePath(vals){
  return 'M'+aEpochs.map((e,i)=>ax(e)+','+ay(vals[i])).join('L');
}
const trainBand=shape('path',{d:bandPath(aTrainLoss,aTrainErr),fill:'#d4d4d4'});


const validBand=shape('path',{d:bandPath(aValidLoss,aValidErr),fill:'#f9a5a5','fill-opacity':0.6});


const accBand=shape('path',{d:bandPath(aValidAcc,aAccErr),fill:'#b5d4f5','fill-opacity':0.8});


const trainLine=shape('path',{d:linePath(aTrainLoss),fill:'none',stroke:'#666','stroke-width':3.5});


const validLine=shape('path',{d:linePath(aValidLoss),fill:'none',stroke:'#f03a40','stroke-width':5.5});


const accLine=shape('path',{d:linePath(aValidAcc),fill:'none',stroke:'#0f6fd8','stroke-width':6.5});


const aFrame=shape('rect',{x:287,y:157,width:953,height:770,fill:'none',stroke:'#111','stroke-width':6});


aYTicks.forEach(v=>{
  const l=shape('line',{x1:287,x2:305,y1:ay(v),y2:ay(v),stroke:'#111','stroke-width':4});
  
  
  const r=shape('line',{x1:1222,x2:1240,y1:ay(v),y2:ay(v),stroke:'#111','stroke-width':4});
  
  
  const t=label(273,ay(v)+17,fmt1(v),47,'end');
  
  
  const t2=label(1254,ay(v)+17,fmt1(v),47,'start');
  
  
});
aYMinor.forEach(v=>{
  const l=shape('line',{x1:287,x2:296,y1:ay(v),y2:ay(v),stroke:'#111','stroke-width':3});
  
  
  const r=shape('line',{x1:1231,x2:1240,y1:ay(v),y2:ay(v),stroke:'#111','stroke-width':3});
  
  
});
aXTicks.forEach(v=>{
  const l=shape('line',{x1:ax(v),x2:ax(v),y1:927,y2:945,stroke:'#111','stroke-width':4});
  
  
  const t=label(ax(v),994,String(v),47,'middle');
  
  
});
aXMinor.forEach(v=>{
  const l=shape('line',{x1:ax(v),x2:ax(v),y1:927,y2:937,stroke:'#111','stroke-width':3});
  
  
});

// ---------- panels (b)(c) ----------
function tsneDots(points,sx,sy,color,radius){
  points.forEach(p=>{
    const c=shape('circle',{cx:sx(p[0]),cy:sy(p[1]),r:radius,fill:color});
    
    
  });
}
const bx=v=>2264+v*114.8;
const by=v=>560-v*86.7;
tsneDots(bYellow,bx,by,'#fde94c',8.5);
tsneDots(bTeal,bx,by,'#1db5a7',8.5);
tsneDots(bPurple,bx,by,'#7f4a8f',8.5);
const bFrame=shape('rect',{x:1745,y:166,width:996,height:744,fill:'none',stroke:'#111','stroke-width':5});


const cx=v=>3600+v*115;
const cy=v=>560-v*86.7;
tsneDots(cTeal,cx,cy,'#0db5a6',10.5);
tsneDots(cYellow,cx,cy,'#fdea4f',10.5);
tsneDots(cPurple,cx,cy,'#7f4a8f',10.5);
const cFrame=shape('rect',{x:3079,y:166,width:999,height:744,fill:'none',stroke:'#111','stroke-width':5});


tsneTicks.forEach(v=>{
  const major=(v%2===0);
  const lenY=major?14:8;
  const yb=shape('line',{x1:1745-lenY,x2:1745,y1:by(v),y2:by(v),stroke:'#222','stroke-width':3});
  
  
  const xb=shape('line',{x1:bx(v),x2:bx(v),y1:910,y2:910+lenY,stroke:'#222','stroke-width':3});
  
  
  const yc=shape('line',{x1:3079-lenY,x2:3079,y1:cy(v),y2:cy(v),stroke:'#222','stroke-width':3});
  
  
  const xc=shape('line',{x1:cx(v),x2:cx(v),y1:910,y2:910+lenY,stroke:'#222','stroke-width':3});
  
  
  if(major){
    const a1=label(v<0?1722:1711,by(v)+17,tsneTxt(v),48,'end');
    
    
    const a2=label(v<0?bx(v)-9:bx(v),994,tsneTxt(v),48,'middle');
    
    
    const a3=label(v<0?3031:3024,cy(v)+17,tsneTxt(v),48,'end');
    
    
    const a4=label(v<0?cx(v)-6:cx(v),994,tsneTxt(v),48,'middle');
    
    
  }
});

// ---------- panels (d)(e) ----------
function drawBars(left,right,catStart,catStep,seriesList,errList,colors){
  const sx=c=>catStart+(c-1)*catStep;
  const sy=v=>2167-v*849;
  const bw=catStep*0.161;
  barCategories.forEach((c,ci)=>{
    seriesList.forEach((vals,si)=>{
      const xc=sx(c)+(si-2)*bw;
      const r=shape('rect',{x:xc-bw/2,y:sy(vals[ci]),width:bw,height:2167-sy(vals[ci]),fill:colors[si],stroke:'#222','stroke-width':3});
      
      
      const top=Math.min(vals[ci]+errList[si][ci],1.0);
      const bot=vals[ci]-errList[si][ci];
      const e=shape('path',{d:'M'+xc+','+sy(top)+'V'+sy(bot)+'M'+(xc-11)+','+sy(top)+'H'+(xc+11)+'M'+(xc-11)+','+sy(bot)+'H'+(xc+11),fill:'none',stroke:'#222','stroke-width':3.5});
      
      
    });
    const t=shape('line',{x1:sx(c),x2:sx(c),y1:2167,y2:2186,stroke:'#111','stroke-width':4});
    
    
    const tm=shape('line',{x1:sx(c)-catStep/2,x2:sx(c)-catStep/2,y1:2167,y2:2179,stroke:'#111','stroke-width':3});
    
    
    const lb=label(sx(c),2240,String(c),54,'middle');
    
    
  });
  const tmEnd=shape('line',{x1:right,x2:right,y1:2167,y2:2179,stroke:'#111','stroke-width':3});
  
  
  const fr=shape('path',{d:'M'+left+',1318V2167',fill:'none',stroke:'#111','stroke-width':4.5});
  
  
  const frR=shape('path',{d:'M'+right+',1318V2167',fill:'none',stroke:'#444','stroke-width':3});
  
  
  const fh=shape('path',{d:'M'+left+',1318H'+right+'M'+left+',2167H'+right,fill:'none',stroke:'#111','stroke-width':7});
  
  
  barYTicks.forEach(v=>{
    const t=shape('line',{x1:left-16,x2:left,y1:sy(v),y2:sy(v),stroke:'#111','stroke-width':4});
    
    
    const lb=label(left-32,sy(v)+19,fmt1(v),52,'end');
    
    
  });
  barYMinor.forEach(v=>{
    const t=shape('line',{x1:left-7,x2:left,y1:sy(v),y2:sy(v),stroke:'#111','stroke-width':3});
    
    
  });
}
const barColors=['#fdc998','#81d99c','#c8b2d9','#fffd9a','#8dbcf6'];
drawBars(282,1339,460,350,[dOurs,dSvm,dKnn,dRf,dLda],[dOursErr,dSvmErr,dKnnErr,dRfErr,dLdaErr],barColors);
drawBars(1738,2794,1916,351,[eOurs,eSvm,eKnn,eRf,eLda],[eOursErr,eSvmErr,eKnnErr,eRfErr,eLdaErr],barColors);

// ---------- panel (f) ----------
function cmap(v){
  const vs=[0,50,100,125,167,211,230];
  const cs=[[246,251,254],[198,223,240],[105,187,220],[20,165,212],[0,120,187],[0,69,143],[0,46,108]];
  if(v<=5){return 'rgb(245,250,254)';}
  let i=0;
  while(i<vs.length-2 && v>vs[i+1]){i++;}
  const t=(v-vs[i])/(vs[i+1]-vs[i]);
  const c=cs[i].map((a,k)=>Math.round(a+(cs[i+1][k]-a)*t));
  return 'rgb('+c.join(',')+')';
}
const cmX=i=>3112+i*266;
const cmY=i=>1292+i*275.3;
[cmRowPS,cmRowPMMA,cmRowPET].forEach((row,r)=>{
  row.forEach((v,c)=>{
    const cell=shape('rect',{x:cmX(c),y:cmY(r),width:267,height:276,fill:cmap(v)});
    
    
    const t=label(cmX(c)+133,cmY(r)+130+21,String(v),54,'middle');
    t.style.fill=v>100?'#f4f8fb':'#111';
    t.style.stroke=v>100?'#f4f8fb':'#111';
    
    
  });
});
cmLabels.forEach((name,i)=>{
  const tx=shape('line',{x1:cmX(i)+133,x2:cmX(i)+133,y1:2118,y2:2132,stroke:'#888','stroke-width':3});
  
  
  const ty=shape('line',{x1:3098,x2:3112,y1:cmY(i)+138,y2:cmY(i)+138,stroke:'#555','stroke-width':3});
  
  
  const lx=label(cmX(i)+133,2205,name,70,'middle');
  
  
  const ly=label(0,0,name,70,'middle');
  ly.setAttribute('transform','translate('+(i===0?3077:3066)+','+(cmY(i)+140)+') rotate(-90)');
  
  
});
const cbY=v=>2118-v*3.6;
cbTicks.forEach(v=>{
  const t=shape('line',{x1:4003,x2:4016,y1:cbY(v),y2:cbY(v),stroke:'#444','stroke-width':3});
  
  
  const lb=label(4030,cbY(v)+17,String(v),47,'start');
  
  
});

// ---------- panel (g) ----------
function drawStrip(g,neg,pos){
  const px=v=>g.negX+v*(g.posX-g.negX);
  const py=v=>g.y0-v*g.yScale;
  probTicks.forEach(v=>{
    if(py(v)<g.top+6||py(v)>g.bottom-4){return;}
    const gl=shape('line',{x1:g.left+10,x2:g.right-4,y1:py(v),y2:py(v),stroke:'#aaa','stroke-width':6,'stroke-dasharray':'10 5'});
    
    
  });
  [0,1].forEach(v=>{
    const gv=shape('line',{x1:px(v),x2:px(v),y1:g.top+4,y2:g.bottom,stroke:'#999','stroke-width':3.5,'stroke-dasharray':'15 8'});
    
    
  });
  neg.forEach(p=>{
    const d=shape('circle',{cx:px(p[0]),cy:py(p[1]),r:5.8,fill:'#008020'});
    
    
  });
  pos.forEach(p=>{
    const d=shape('circle',{cx:px(1+p[0]),cy:py(p[1]),r:5.8,fill:'#ffa500'});
    
    
  });
  const fr=shape('rect',{x:g.left,y:g.top,width:g.right-g.left,height:g.bottom-g.top,fill:'none',stroke:'#111','stroke-width':6.5});
  
  
  if(g.thick){
    const th=shape('path',{d:'M'+g.left+','+g.top+'H'+g.right+'M'+g.left+','+g.bottom+'H'+g.right,fill:'none',stroke:'#111','stroke-width':10});
    
    
  }
  probTicks.forEach(v=>{
    const lb=label(g.labelEnd,py(v)+13,fmt1(v),35,'end');
    
    
  });
  const nl=label(g.negLabelX,g.catY+15,'Negative',47,'middle');
  
  
  const pl=label(g.posLabelX,g.catY+15,'Positive',47,'middle');
  
  
  const yt=label(0,0,'Probability',47,'middle');
  yt.setAttribute('transform','translate('+g.titleX+','+g.titleY+') rotate(-90)');
  
  
}
drawStrip({left:142,right:766,top:2440,bottom:3045,negX:261,posX:652,y0:3016,yScale:547,labelEnd:132,negLabelX:252,posLabelX:647,catY:3085,titleX:74,titleY:2743},oursNeg,oursPos);
drawStrip({left:955,right:1578,top:2456,bottom:3060,negX:1073,posX:1465,y0:3030,yScale:546,labelEnd:950,negLabelX:1073,posLabelX:1460,catY:3094,titleX:888,titleY:2758},knnNeg,knnPos);
drawStrip({left:1813,right:2439,top:2459,bottom:3061,negX:1929,posX:2321,y0:3059,yScale:600,labelEnd:1810,negLabelX:1929,posLabelX:2316,catY:3099,titleX:1742,titleY:2770,thick:true},svmNeg,svmPos);
drawStrip({left:2647,right:3273,top:2456,bottom:3059,negX:2765,posX:3156,y0:3058,yScale:600,labelEnd:2641,negLabelX:2765,posLabelX:3152,catY:3099,titleX:2576,titleY:2752,thick:true},rfNeg,rfPos);
drawStrip({left:3484,right:4110,top:2440,bottom:3047,negX:3601,posX:3992,y0:3019,yScale:551,labelEnd:3477,negLabelX:3606,posLabelX:3990,catY:3076,titleX:3408,titleY:2728},ldaNeg,ldaPos);
</script>
</body>
</html>
